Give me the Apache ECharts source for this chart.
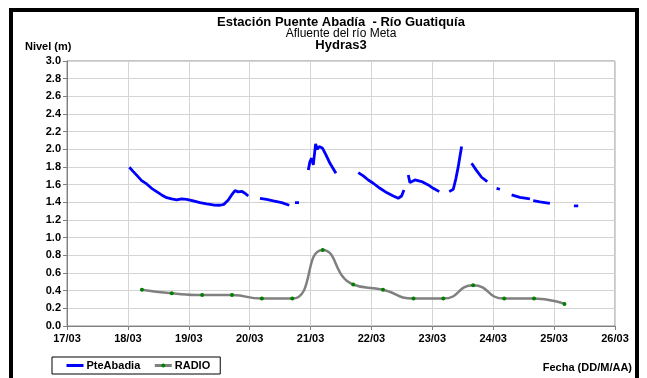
<!DOCTYPE html>
<html>
<head>
<meta charset="utf-8">
<script src="https://cdn.jsdelivr.net/npm/echarts@6/dist/echarts.min.js"></script>
<style>
  html, body { margin: 0; padding: 0; background: #fff; }
  #chart { width: 647px; height: 378px; }
</style>
</head>
<body>
<div id="chart"></div>
<script>
// x values are days since 17/03 00:00
const dayLabels = ['17/03', '18/03', '19/03', '20/03', '21/03', '22/03', '23/03', '24/03', '25/03', '26/03']

const pteAbadia = [
  [[1.024, 1.797], [1.089, 1.748], [1.155, 1.699], [1.226, 1.646], [1.308, 1.608], [1.390, 1.559],
   [1.472, 1.521], [1.554, 1.484], [1.637, 1.453], [1.719, 1.438], [1.801, 1.427], [1.883, 1.438],
   [1.965, 1.434], [2.074, 1.416], [2.184, 1.397], [2.293, 1.382], [2.403, 1.370], [2.512, 1.367],
   [2.578, 1.378], [2.649, 1.427], [2.704, 1.484], [2.759, 1.533], [2.813, 1.518], [2.868, 1.525],
   [2.923, 1.503], [2.977, 1.472]],
  [[3.169, 1.446], [3.279, 1.434], [3.388, 1.416], [3.525, 1.397], [3.651, 1.367]],
  [[3.744, 1.397], [3.810, 1.397]],
  [[3.963, 1.767], [3.990, 1.861], [4.018, 1.899], [4.045, 1.823], [4.083, 2.061], [4.110, 2.001],
   [4.143, 2.031], [4.198, 2.012], [4.253, 1.937], [4.319, 1.842], [4.417, 1.729]],
  [[4.784, 1.737], [4.866, 1.699], [4.948, 1.653], [5.030, 1.616], [5.140, 1.559], [5.249, 1.510],
   [5.359, 1.472], [5.440, 1.446], [5.495, 1.472], [5.534, 1.540]],
  [[5.605, 1.710], [5.632, 1.623], [5.714, 1.653], [5.824, 1.635], [5.933, 1.597], [6.015, 1.559],
   [6.114, 1.521]],
  [[6.278, 1.521], [6.344, 1.548], [6.388, 1.672], [6.426, 1.804], [6.453, 1.918], [6.481, 2.031]],
  [[6.645, 1.842], [6.727, 1.759], [6.809, 1.684], [6.902, 1.635]],
  [[7.055, 1.559], [7.110, 1.548]],
  [[7.302, 1.484], [7.438, 1.457], [7.603, 1.438]],
  [[7.657, 1.419], [7.767, 1.404], [7.931, 1.389]],
  [[8.325, 1.359], [8.396, 1.359]]
]

const radioDays = [1.23, 1.72, 2.22, 2.71, 3.20, 3.70, 4.20, 4.70, 5.19, 5.69, 6.18, 6.67, 7.18, 7.67, 8.17]
const radioLevel = [0.41, 0.37, 0.35, 0.35, 0.31, 0.31, 0.86, 0.47, 0.41, 0.31, 0.31, 0.46, 0.31, 0.31, 0.25]

const font = 'Liberation Sans, Arial, sans-serif'
const chart = echarts.init(document.getElementById('chart'))

const series = pteAbadia.map((seg) => ({
  name: 'PteAbadia',
  type: 'line',
  data: seg,
  symbol: 'none',
  lineStyle: { color: '#0000ff', width: 2.8 },
  itemStyle: { color: '#0000ff' },
  z: 3
}))

series.push({
  name: 'RADIO',
  type: 'line',
  data: radioDays.map((d, i) => [d, radioLevel[i]]),
  smooth: 0.55,
  symbol: 'circle',
  symbolSize: 4,
  lineStyle: { color: '#808080', width: 2.5 },
  itemStyle: { color: '#008000', borderWidth: 0 },
  z: 2
})

chart.setOption({
  animation: false,
  textStyle: { fontFamily: font },
  grid: {
    left: 67,
    right: 32,
    top: 61,
    bottom: 52,
    show: true,
    borderColor: '#8c8c8c',
    borderWidth: 1
  },
  xAxis: {
    type: 'value',
    min: 0,
    max: 9,
    interval: 1,
    axisLine: { lineStyle: { color: '#808080', width: 1 } },
    axisTick: { show: true, length: 4, lineStyle: { color: '#808080' } },
    splitLine: { lineStyle: { color: '#d4d4d4', width: 1 } },
    axisLabel: {
      margin: 7,
      color: '#000',
      fontWeight: 'bold',
      fontSize: 11,
      formatter: (v) => dayLabels[Math.round(v)]
    }
  },
  yAxis: {
    type: 'value',
    min: 0,
    max: 3,
    interval: 0.2,
    axisLine: { show: true, lineStyle: { color: '#808080', width: 1 } },
    axisTick: { show: true, length: 4, lineStyle: { color: '#808080' } },
    splitLine: { lineStyle: { color: '#d4d4d4', width: 1 } },
    axisLabel: {
      margin: 6,
      color: '#000',
      fontWeight: 'bold',
      fontSize: 11,
      formatter: (v) => v.toFixed(1)
    }
  },
  legend: {
    left: 52,
    top: 357,
    orient: 'horizontal',
    data: [
      { name: 'PteAbadia', itemStyle: { opacity: 0 }, lineStyle: { width: 3 } },
      { name: 'RADIO', lineStyle: { width: 3 } }
    ],
    itemWidth: 17,
    itemHeight: 5,
    itemGap: 13,
    padding: [3, 10, 3, 13],
    borderColor: '#000',
    borderWidth: 1,
    borderRadius: 0,
    textStyle: { color: '#000', fontWeight: 'bold', fontSize: 11, padding: [0, 0, 0, -2] }
  },
  graphic: [
    {
      type: 'rect',
      shape: { x: 11, y: 10, width: 626, height: 420 },
      style: { fill: 'none', stroke: '#000', lineWidth: 4 },
      silent: true
    },
    {
      type: 'text',
      style: { text: 'Estación Puente Abadía  - Río Guatiquía', x: 341, y: 22, align: 'center', verticalAlign: 'middle', font: 'bold 13px ' + font, fill: '#000' }
    },
    {
      type: 'text',
      style: { text: 'Afluente del río Meta', x: 341, y: 34, align: 'center', verticalAlign: 'middle', font: '12px ' + font, fill: '#000' }
    },
    {
      type: 'text',
      style: { text: 'Hydras3', x: 341, y: 45.5, align: 'center', verticalAlign: 'middle', font: 'bold 13px ' + font, fill: '#000' }
    },
    {
      type: 'text',
      style: { text: 'Nivel (m)', x: 25, y: 47, align: 'left', verticalAlign: 'middle', font: 'bold 11px ' + font, fill: '#000' }
    },
    {
      type: 'text',
      style: { text: 'Fecha (DD/M/AA)', x: 632, y: 368, align: 'right', verticalAlign: 'middle', font: 'bold 11px ' + font, fill: '#000' }
    }
  ],
  series: series
})
</script>
</body>
</html>
